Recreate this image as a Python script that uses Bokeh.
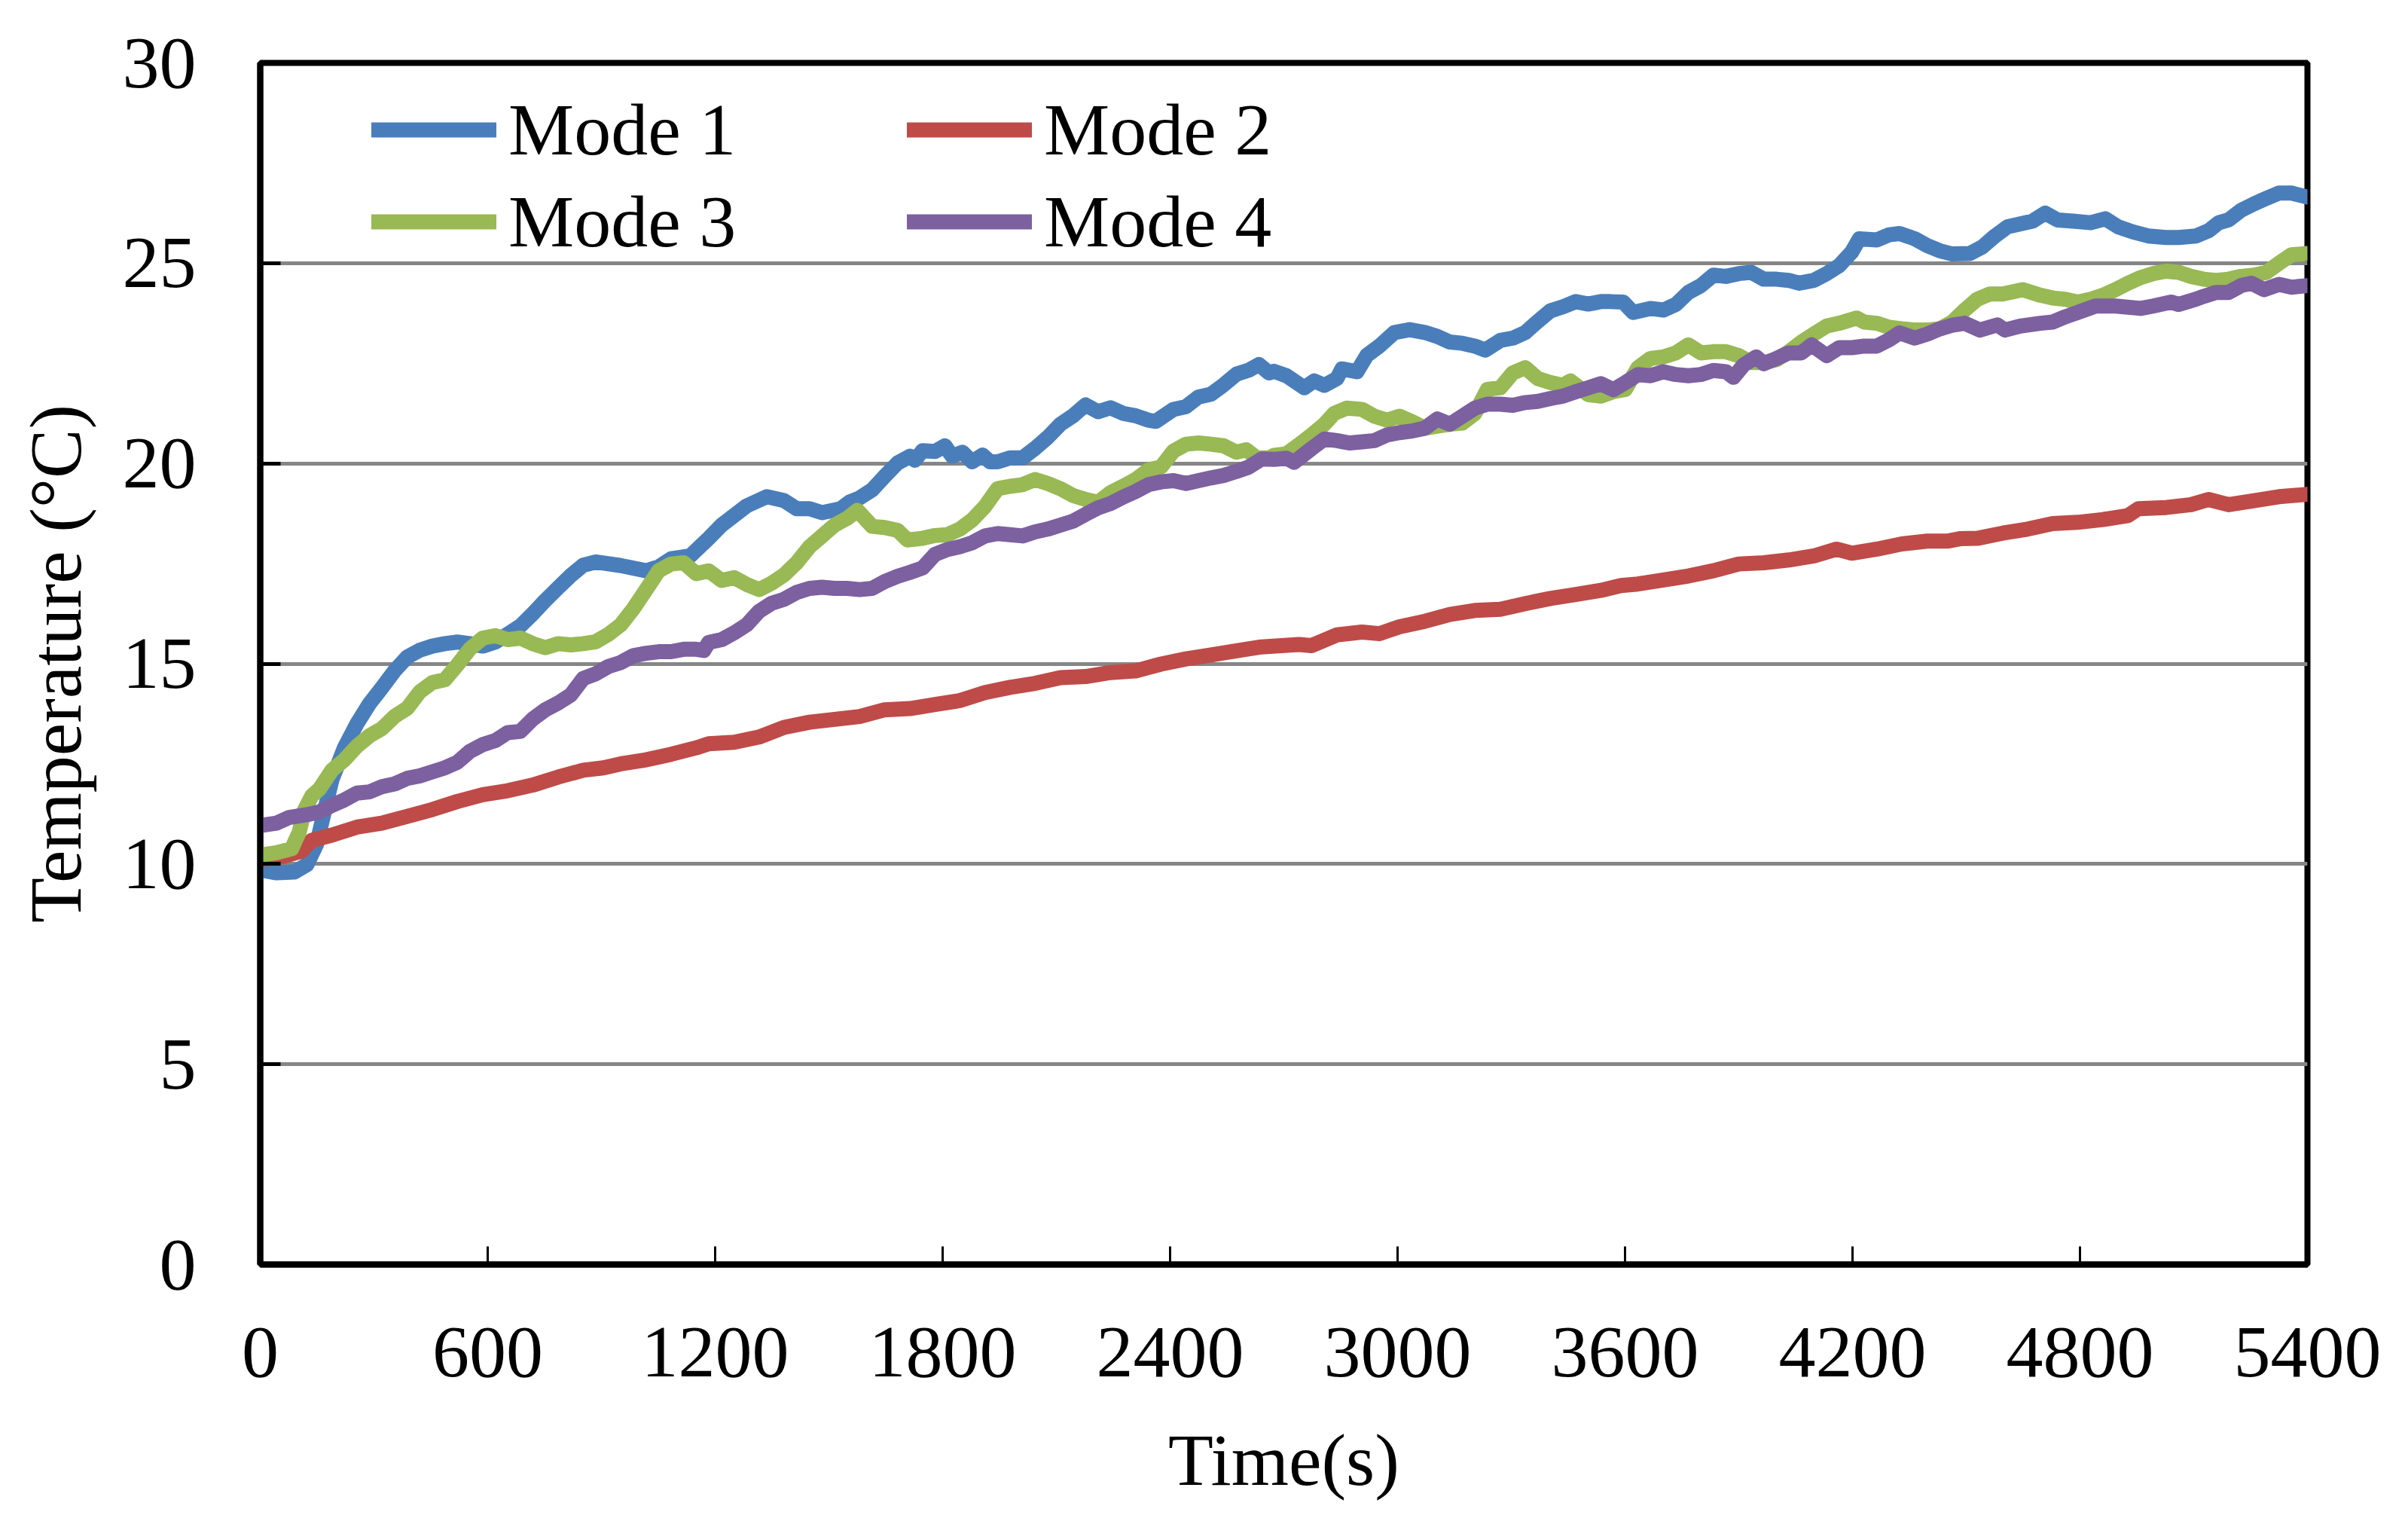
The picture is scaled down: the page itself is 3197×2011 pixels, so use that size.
from bokeh.plotting import figure
from bokeh.models import Range1d, FixedTicker, Legend, LegendItem
from bokeh.embed import file_html
from bokeh.resources import INLINE

# ---------------- data ----------------
x_ticks = [0, 600, 1200, 1800, 2400, 3000, 3600, 4200, 4800, 5400]
y_ticks = [0, 5, 10, 15, 20, 25, 30]
series_names = ["Mode 1", "Mode 2", "Mode 3", "Mode 4"]

t1 = [0, 43, 90, 123, 149, 169, 189, 222, 255, 288, 321, 355, 388, 421, 454, 487, 520, 553, 587, 620, 653, 686, 719, 752, 786, 819, 852, 885,
      951, 1018, 1051, 1084, 1134, 1183, 1217, 1250, 1283, 1336, 1382, 1415, 1449, 1482, 1531, 1555, 1581, 1614, 1647, 1681, 1714, 1727, 1747, 1780,
      1806, 1825, 1852, 1878, 1905, 1925, 1945, 1978, 2011, 2044, 2077, 2111, 2144, 2177, 2210, 2243, 2276, 2309, 2343, 2362, 2409, 2442, 2475, 2508, 2541, 2575, 2608, 2634, 2661,
      2674, 2707, 2754, 2780, 2807, 2840, 2853, 2893, 2919, 2952, 2992, 3032, 3072, 3105, 3138, 3171, 3204, 3231, 3271, 3304, 3337, 3364, 3403, 3436, 3470, 3503, 3536, 3562,
      3595, 3621, 3667, 3701, 3734, 3767, 3800, 3833, 3866, 3900, 3933, 3966, 3999, 4032, 4059, 4098, 4132, 4165, 4198, 4218, 4264, 4297, 4324, 4364, 4397, 4430, 4463,
      4509, 4543, 4576, 4609, 4642, 4675, 4708, 4741, 4781, 4828, 4867, 4900, 4940, 4980, 5027, 5060, 5106, 5139, 5166, 5192, 5225, 5259, 5292, 5325, 5358, 5400]
m1 = [9.85, 9.78, 9.8, 9.98, 10.5, 11.3, 12.1, 12.9, 13.5, 14.0, 14.4, 14.83, 15.17, 15.34, 15.44, 15.5, 15.54, 15.5, 15.44, 15.54, 15.74, 15.94, 16.25, 16.58, 16.9, 17.2, 17.46, 17.54,
      17.45, 17.32, 17.42, 17.62, 17.69, 18.13, 18.46, 18.7, 18.94, 19.17, 19.07, 18.87, 18.87, 18.77, 18.87, 19.04, 19.14, 19.34, 19.68, 20.01, 20.18, 20.08, 20.32, 20.3,
      20.44, 20.18, 20.28, 20.04, 20.21, 20.04, 20.04, 20.14, 20.14, 20.38, 20.65, 20.98, 21.19, 21.46, 21.29, 21.39, 21.25, 21.19, 21.08, 21.05, 21.35, 21.42, 21.66, 21.73, 21.96, 22.23, 22.33, 22.47, 22.26,
      22.3, 22.19, 21.89, 22.06, 21.95, 22.12, 22.36, 22.29, 22.7, 22.93, 23.27, 23.34, 23.27, 23.17, 23.03, 23.0, 22.93, 22.83, 23.07, 23.13, 23.27, 23.5, 23.81, 23.91, 24.04, 23.98, 24.04, 24.04,
      24.03, 23.77, 23.87, 23.83, 23.97, 24.27, 24.44, 24.7, 24.67, 24.74, 24.77, 24.6, 24.6, 24.57, 24.5, 24.57, 24.74, 24.94, 25.28, 25.61, 25.58, 25.71, 25.74, 25.61, 25.44, 25.31, 25.23,
      25.24, 25.41, 25.68, 25.91, 25.98, 26.05, 26.25, 26.08, 26.05, 26.01, 26.11, 25.91, 25.78, 25.68, 25.64, 25.64, 25.68, 25.81, 26.01, 26.08, 26.32, 26.48, 26.62, 26.75, 26.75, 26.65]

t2 = [0, 56, 109, 136, 189, 255, 321, 388, 454, 520,
      587, 653, 719, 786, 852, 905, 951, 1018, 1084, 1150,
      1183, 1250, 1316, 1382, 1449, 1515, 1581, 1647, 1714, 1780,
      1845, 1912, 1978, 2044, 2111, 2177, 2243, 2309, 2376, 2442,
      2508, 2575, 2641, 2694, 2740, 2773, 2840, 2906, 2952, 3005,
      3072, 3138, 3204, 3271, 3337, 3403, 3470, 3536, 3589, 3634,
      3701, 3767, 3833, 3900, 3966, 4032, 4098, 4158, 4198, 4264,
      4330, 4397, 4450, 4483, 4529, 4596, 4662, 4728, 4794, 4861,
      4927, 4954, 5027, 5093, 5139, 5192, 5259, 5325, 5400]
m2 = [10.11, 10.18, 10.32, 10.59, 10.72, 10.92, 11.02, 11.19, 11.36, 11.56,
      11.73, 11.83, 11.97, 12.17, 12.34, 12.4, 12.5, 12.6, 12.74, 12.9,
      13.0, 13.04, 13.17, 13.41, 13.54, 13.61, 13.68, 13.85, 13.88, 13.98,
      14.08, 14.28, 14.41, 14.51, 14.65, 14.68, 14.78, 14.82, 14.99, 15.12,
      15.22, 15.32, 15.42, 15.45, 15.48, 15.45, 15.72, 15.79, 15.75, 15.92,
      16.06, 16.23, 16.33, 16.36, 16.5, 16.63, 16.73, 16.83, 16.95, 16.99,
      17.09, 17.19, 17.32, 17.49, 17.52, 17.59, 17.69, 17.86, 17.76, 17.86,
      17.99, 18.06, 18.06, 18.12, 18.13, 18.26, 18.36, 18.5, 18.53, 18.6,
      18.7, 18.87, 18.9, 18.97, 19.1, 18.97, 19.07, 19.17, 19.23]

t3 = [0, 43, 83, 103, 116, 136, 156, 189, 222, 255, 288, 321, 355, 388, 421, 454, 487, 520, 553, 587, 620, 653, 686, 719, 752, 786, 819, 852, 885,
      918, 951, 984, 1018, 1051, 1084, 1117, 1150, 1183, 1217, 1250, 1283, 1316, 1349, 1382, 1415, 1449, 1482, 1515, 1548, 1575, 1614, 1647, 1681, 1707, 1747, 1780,
      1812, 1845, 1878, 1912, 1945, 1978, 2011, 2044, 2077, 2111, 2144, 2177, 2210, 2243, 2276, 2309, 2343, 2376, 2409, 2442, 2475, 2508, 2541, 2575, 2601, 2628, 2661,
      2674, 2707, 2740, 2773, 2807, 2833, 2866, 2906, 2939, 2972, 3005, 3039, 3072, 3112, 3138, 3171, 3204, 3237, 3271, 3304, 3337, 3370, 3403, 3436, 3456, 3503, 3536,
      3568, 3601, 3634, 3667, 3701, 3734, 3767, 3800, 3833, 3866, 3900, 3933, 3966, 3999, 4032, 4065, 4098, 4132, 4165, 4211, 4231, 4264, 4297, 4330, 4364, 4397, 4430, 4463,
      4496, 4529, 4562, 4596, 4649, 4695, 4728, 4761, 4794, 4828, 4861, 4894, 4927, 4960, 4993, 5027, 5060, 5093, 5126, 5159, 5192, 5225, 5259, 5292, 5325, 5358, 5400]
m3 = [10.22, 10.28, 10.38, 10.8, 11.33, 11.7, 11.87, 12.34, 12.6, 12.94, 13.2, 13.38, 13.69, 13.89, 14.3, 14.53, 14.6, 14.97, 15.37, 15.64, 15.7, 15.6, 15.64, 15.5, 15.4, 15.5, 15.47, 15.5, 15.55,
      15.73, 15.97, 16.37, 16.85, 17.32, 17.49, 17.52, 17.25, 17.32, 17.08, 17.15, 16.98, 16.85, 17.01, 17.22, 17.52, 17.92, 18.19, 18.46, 18.63, 18.83, 18.43, 18.4, 18.33, 18.09, 18.13, 18.2,
      18.22, 18.36, 18.59, 18.93, 19.37, 19.43, 19.47, 19.6, 19.5, 19.37, 19.2, 19.1, 19.03, 19.27, 19.43, 19.6, 19.84, 19.91, 20.31, 20.48, 20.51, 20.48, 20.44, 20.28, 20.34, 20.14, 20.14,
      20.2, 20.24, 20.47, 20.71, 20.98, 21.25, 21.38, 21.35, 21.18, 21.08, 21.18, 21.04, 20.88, 20.94, 20.98, 21.01, 21.25, 21.85, 21.89, 22.26, 22.39, 22.12, 22.02, 21.95, 22.06, 21.72, 21.68,
      21.79, 21.85, 22.39, 22.62, 22.66, 22.76, 22.96, 22.76, 22.79, 22.79, 22.69, 22.52, 22.52, 22.59, 22.79, 23.03, 23.23, 23.43, 23.5, 23.63, 23.53, 23.5, 23.4, 23.36, 23.33, 23.33, 23.36, 23.53,
      23.83, 24.1, 24.23, 24.23, 24.34, 24.2, 24.13, 24.1, 24.03, 24.1, 24.2, 24.34, 24.5, 24.64, 24.74, 24.8, 24.77, 24.67, 24.6, 24.57, 24.6, 24.67, 24.7, 24.77, 25.0, 25.21, 25.24]

t4 = [0, 43, 76, 123, 156, 189, 222, 255, 288, 321, 355, 388, 421, 454, 487, 520, 553, 587, 620, 653, 686, 719, 752, 786, 819, 852, 885,
      918, 951, 984, 1018, 1051, 1084, 1117, 1150, 1170, 1183, 1217, 1250, 1283, 1316, 1349, 1382, 1415, 1449, 1482, 1515, 1548, 1581, 1614, 1647, 1681, 1714, 1747, 1780,
      1812, 1845, 1878, 1912, 1945, 1978, 2011, 2044, 2077, 2111, 2144, 2177, 2210, 2243, 2276, 2309, 2343, 2376, 2409, 2442, 2475, 2508, 2541, 2575, 2608, 2641, 2674,
      2707, 2727, 2773, 2807, 2840, 2873, 2906, 2939, 2972, 3005, 3039, 3072, 3105, 3138, 3171, 3204, 3237, 3271, 3304, 3337, 3370, 3403, 3436, 3470, 3503, 3536, 3569,
      3601, 3634, 3667, 3701, 3734, 3767, 3800, 3833, 3866, 3886, 3913, 3946, 3966, 3999, 4032, 4065, 4092, 4132, 4165, 4198, 4231, 4264, 4297, 4324, 4364, 4397, 4430, 4463,
      4496, 4536, 4582, 4602, 4642, 4695, 4728, 4761, 4794, 4841, 4894, 4960, 4993, 5040, 5060, 5106, 5126, 5159, 5192, 5225, 5252, 5285, 5325, 5358, 5400]
m4 = [10.96, 11.02, 11.16, 11.23, 11.3, 11.46, 11.6, 11.77, 11.8, 11.93, 12.0, 12.14, 12.2, 12.3, 12.4, 12.54, 12.81, 12.98, 13.08, 13.28, 13.31, 13.62, 13.85, 14.02, 14.22, 14.63, 14.75,
      14.93, 15.03, 15.2, 15.26, 15.3, 15.3, 15.36, 15.36, 15.33, 15.53, 15.6, 15.77, 15.97, 16.31, 16.51, 16.61, 16.78, 16.88, 16.91, 16.88, 16.88, 16.85, 16.88, 17.05, 17.18, 17.28, 17.39, 17.73,
      17.85, 17.92, 18.02, 18.19, 18.25, 18.22, 18.19, 18.29, 18.36, 18.46, 18.56, 18.73, 18.89, 19.0, 19.16, 19.3, 19.47, 19.54, 19.57, 19.5, 19.57, 19.64, 19.7, 19.8, 19.91, 20.11, 20.1,
      20.13, 20.03, 20.37, 20.61, 20.57, 20.51, 20.54, 20.57, 20.71, 20.77, 20.81, 20.88, 21.11, 20.98, 21.18, 21.38, 21.48, 21.48, 21.45, 21.52, 21.55, 21.62, 21.68, 21.79, 21.89, 21.99, 21.84,
      22.02, 22.22, 22.19, 22.29, 22.22, 22.19, 22.22, 22.32, 22.29, 22.15, 22.46, 22.66, 22.49, 22.62, 22.76, 22.76, 22.96, 22.69, 22.89, 22.89, 22.93, 22.93, 23.09, 23.26, 23.13, 23.23, 23.36, 23.45,
      23.5, 23.33, 23.46, 23.33, 23.43, 23.5, 23.53, 23.66, 23.77, 23.93, 23.93, 23.87, 23.93, 24.03, 23.97, 24.1, 24.17, 24.27, 24.27, 24.44, 24.5, 24.34, 24.47, 24.4, 24.44]

colors = ["#4A7EBB", "#BE4B48", "#98B954", "#7D60A0"]

# ---------------- figure ----------------
FONT = "Liberation Serif"
FS = "98px"

p = figure(width=3180, height=1995, output_backend="svg", toolbar_location=None,
           x_range=Range1d(0, 5400), y_range=Range1d(0, 30),
           min_border_left=345, min_border_right=117, min_border_top=83, min_border_bottom=317)
p.background_fill_color = "white"
p.border_fill_color = "white"
p.outline_line_color = "black"
p.outline_line_width = 8

p.xgrid.visible = False
p.ygrid.ticker = FixedTicker(ticks=y_ticks)
p.ygrid.grid_line_color = "#868686"
p.ygrid.grid_line_width = 5

p.xaxis.ticker = FixedTicker(ticks=x_ticks)
p.yaxis.ticker = FixedTicker(ticks=y_ticks)

for ax in (p.xaxis[0], p.yaxis[0]):
    ax.axis_line_color = "black"
    ax.axis_line_width = 8
    ax.major_tick_line_color = "black"
    ax.major_tick_out = 0
    ax.minor_tick_line_color = None
    ax.major_label_text_font = FONT
    ax.major_label_text_font_size = FS
    ax.major_label_text_color = "black"
    ax.axis_label_text_font = FONT
    ax.axis_label_text_font_size = FS
    ax.axis_label_text_font_style = "normal"
    ax.axis_label_text_color = "black"

p.xaxis.major_tick_in = 24
p.xaxis.major_tick_line_width = 3
p.yaxis.major_tick_in = 27
p.yaxis.major_tick_line_width = 5
p.xaxis.major_label_standoff = 84
p.yaxis.major_label_standoff = 85
p.xaxis.axis_label = "Time(s)"
p.yaxis.axis_label = "Temperature (°C)"
p.xaxis.axis_label_standoff = 54
p.yaxis.axis_label_standoff = 32

ts = [t1, t2, t3, t4]
ms = [m1, m2, m3, m4]
rs = []
for t, m, c in zip(ts, ms, colors):
    r = p.line(t, m, line_color=c, line_width=20, line_join="round", line_cap="round")
    rs.append(r)

leg1 = Legend(items=[LegendItem(label=series_names[0], renderers=[rs[0]]),
                     LegendItem(label=series_names[2], renderers=[rs[2]])],
              location=(148, 1328))
leg2 = Legend(items=[LegendItem(label=series_names[1], renderers=[rs[1]]),
                     LegendItem(label=series_names[3], renderers=[rs[3]])],
              location=(859, 1328))
for leg in (leg1, leg2):
    leg.label_text_font = FONT
    leg.label_text_font_size = FS
    leg.label_text_color = "black"
    leg.glyph_width = 166
    leg.glyph_height = 40
    leg.label_standoff = 16
    leg.spacing = 10
    leg.padding = 0
    leg.margin = 0
    leg.border_line_alpha = 0
    leg.background_fill_alpha = 0
    p.add_layout(leg)

open("out.html", "w").write(file_html(p, INLINE))
